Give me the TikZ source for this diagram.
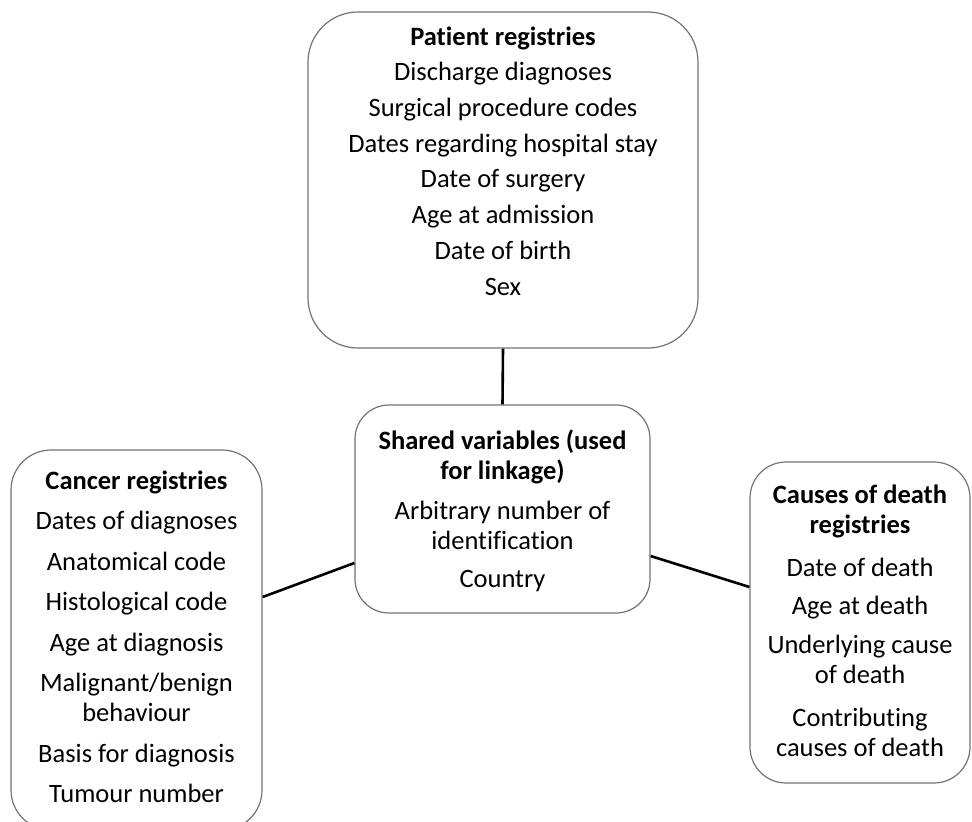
\documentclass[tikz,border=0pt]{standalone}
\usepackage{fontspec}
\setmainfont{Carlito}[Ligatures=NoCommon]
\usetikzlibrary{positioning}

\tikzset{
  regbox/.style={draw=black!55, line width=1.2pt, rounded corners=#1, inner sep=0pt},
  regtext/.style={align=center, inner sep=0pt, font=\fontsize{26.5}{30}\selectfont},
  link/.style={draw=black, line width=2.6pt},
}

\begin{document}
\begin{tikzpicture}[x=1pt, y=-1pt]
\useasboundingbox (0,0) rectangle (972,822);

% registry boxes
\node[regbox=50pt, minimum width=390pt, minimum height=336pt] (patient) at (503,180) {};
\node[regbox=34pt, minimum width=295pt, minimum height=208pt] (shared) at (502.5,509) {};
\node[regbox=40pt, minimum width=251pt, minimum height=380pt] (cancer) at (136.5,640) {};
\node[regbox=36pt, minimum width=220pt, minimum height=321pt] (death) at (860,622.5) {};

% box contents
\node[regtext, below=15pt of patient.north] (patientText) {\textbf{Patient registries}\\[5.7pt]
  Discharge diagnoses\\[5.7pt]
  Surgical procedure codes\\[5.7pt]
  Dates regarding hospital stay\\[5.7pt]
  Date of surgery\\[5.7pt]
  Age at admission\\[5.7pt]
  Date of birth\\[5.7pt]
  Sex};
\node[regtext, below=25.5pt of shared.north] (sharedText) {\textbf{Shared variables (used}\\
  \textbf{for linkage)}\\[10pt]
  Arbitrary number of\\
  identification\\[8pt]
  Country};
\node[regtext, below=21pt of cancer.north] (cancerText) {\textbf{Cancer registries}\\[10.5pt]
  Dates of diagnoses\\[10.5pt]
  Anatomical code\\[10.5pt]
  Histological code\\[10.5pt]
  Age at diagnosis\\[10.5pt]
  Malignant/benign\\
  behaviour\\[10.5pt]
  Basis for diagnosis\\[10.5pt]
  Tumour number};
\node[regtext, below=23pt of death.north] (deathText) {\textbf{Causes of death}\\
  \textbf{registries}\\[13pt]
  Date of death\\[8pt]
  Age at death\\[9pt]
  Underlying cause\\
  of death\\[13pt]
  Contributing\\
  causes of death};

% links to the shared variables
\draw[link] (patient.south) -- (shared.north);
\draw[link] ([yshift=43pt]cancer.east) -- ([yshift=-54pt]shared.west);
\draw[link] ([yshift=-47pt]shared.east) -- ([yshift=35.5pt]death.west);
\end{tikzpicture}
\end{document}
